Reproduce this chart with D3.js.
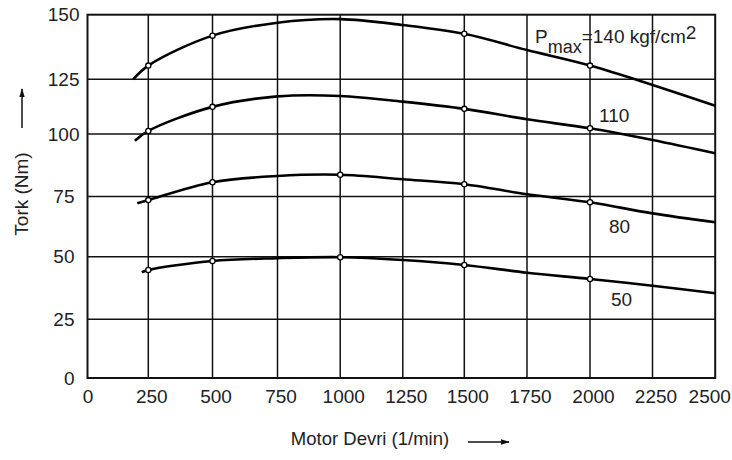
<!DOCTYPE html>
<html>
<head>
<meta charset="utf-8">
<script src="https://cdn.jsdelivr.net/npm/d3@7"></script>
<style>
  body { margin: 0; background: #fff; }
  svg text { font-family: "Liberation Sans", Arial, sans-serif; fill: #222; }
</style>
</head>
<body>
<div id="chart"></div>
<script>
// tick values
const xTicks = [0, 250, 500, 750, 1000, 1250, 1500, 1750, 2000, 2250, 2500];
const yTicks = [0, 25, 50, 75, 100, 125, 150];

// curves (rpm, torque Nm)
const rpm140 = [188, 250, 500, 750, 1000, 1250, 1500, 1750, 2000, 2250, 2500];
const tork140 = [125, 130.3, 141.9, 146.9, 148.3, 146.0, 142.6, 136.3, 130.3, 122.4, 112.9];
const rpm110 = [195, 250, 500, 750, 1000, 1250, 1500, 1750, 2000, 2250, 2500];
const tork110 = [97.3, 101.4, 112.4, 117.2, 117.4, 114.8, 111.5, 106.7, 102.6, 97.6, 92.3];
const rpm80 = [205, 250, 500, 750, 1000, 1250, 1500, 1750, 2000, 2250, 2500];
const tork80 = [72.2, 73.5, 80.7, 83.2, 83.7, 81.9, 79.9, 75.9, 72.6, 68.0, 64.3];
const rpm50 = [223, 250, 500, 750, 1000, 1250, 1500, 1750, 2000, 2250, 2500];
const tork50 = [43.8, 44.7, 48.3, 49.4, 49.8, 48.7, 46.7, 43.6, 41.1, 38.4, 35.4];

// measured points (small open circles)
const marks140 = [250, 500, 1500, 2000];
const marks110 = [250, 500, 1500, 2000];
const marks80 = [250, 500, 1000, 1500, 2000];
const marks50 = [250, 500, 1000, 1500, 2000];

const curveLabels = ["110", "80", "50"];

const width = 732, height = 460;

// the scanned grid is not quite even, so the scales follow every grid line
const x = d3.scaleLinear()
    .domain(xTicks)
    .range([87.5, 148.3, 212.5, 277.5, 340.2, 402.8, 464.3, 527, 590, 652.5, 715.2]);
const y = d3.scaleLinear()
    .domain(yTicks)
    .range([378, 319.3, 256.7, 196.5, 134, 79.3, 14.7]);

const svg = d3.select('#chart').append('svg')
    .attr('width', width)
    .attr('height', height);

// grid
const grid = svg.append('g').attr('stroke', '#111').attr('stroke-width', 1.5);
grid.selectAll('line.v').data(xTicks.slice(1, -1)).enter().append('line')
    .attr('class', 'v')
    .attr('x1', d => x(d)).attr('x2', d => x(d))
    .attr('y1', y(0)).attr('y2', y(150));
grid.selectAll('line.h').data(yTicks.slice(1, -1)).enter().append('line')
    .attr('class', 'h')
    .attr('x1', x(0)).attr('x2', x(2500))
    .attr('y1', d => y(d)).attr('y2', d => y(d));

svg.append('rect')
    .attr('x', x(0)).attr('y', y(150))
    .attr('width', x(2500) - x(0)).attr('height', y(0) - y(150))
    .attr('fill', 'none').attr('stroke', '#111').attr('stroke-width', 2);

// axes (labels only)
const xAxis = svg.append('g')
    .attr('transform', `translate(0,${y(0)})`)
    .call(d3.axisBottom(x).tickValues(xTicks).tickSize(0).tickPadding(12).tickFormat(d3.format('')));
xAxis.select('.domain').remove();
xAxis.selectAll('text').attr('font-size', 19).attr('dx', (d, i) => i === 0 ? 0 : (d === 2500 ? -6 : 3));

const yAxis = svg.append('g')
    .attr('transform', `translate(${x(0)},0)`)
    .call(d3.axisLeft(y).tickValues(yTicks).tickSize(0).tickPadding(9));
yAxis.select('.domain').remove();
yAxis.selectAll('text').attr('font-size', 19).attr('dx', d => d >= 100 ? 1 : -4);

// curves
const line = d3.line()
    .x(d => x(d[0]))
    .y(d => y(d[1]))
    .curve(d3.curveCatmullRom.alpha(0.5));

const series = [
    { rpm: rpm140, tork: tork140, marks: marks140 },
    { rpm: rpm110, tork: tork110, marks: marks110 },
    { rpm: rpm80, tork: tork80, marks: marks80 },
    { rpm: rpm50, tork: tork50, marks: marks50 }
];

series.forEach(s => {
    const pts = s.rpm.map((r, i) => [r, s.tork[i]]);
    svg.append('path')
        .datum(pts)
        .attr('fill', 'none')
        .attr('stroke', '#000')
        .attr('stroke-width', 2.6)
        .attr('d', line);
    svg.append('g').selectAll('circle')
        .data(s.marks.map(m => pts.find(p => p[0] === m)))
        .enter().append('circle')
        .attr('cx', d => x(d[0]))
        .attr('cy', d => y(d[1]))
        .attr('r', 2.6)
        .attr('fill', '#fff')
        .attr('stroke', '#000')
        .attr('stroke-width', 1.3);
});

// curve labels
const pLabel = svg.append('text')
    .attr('x', x(1750) + 8)
    .attr('y', 43)
    .attr('font-size', 19);
pLabel.append('tspan').text('P');
pLabel.append('tspan').attr('dy', 10).attr('font-size', 18).text('max');
pLabel.append('tspan').attr('dy', -10).text('=140 kgf/cm');
pLabel.append('tspan').attr('dy', -4).text('2');

svg.append('g').selectAll('text')
    .data(curveLabels)
    .enter().append('text')
    .attr('x', (d, i) => x(2000) + [9, 19, 21][i])
    .attr('y', (d, i) => [121.5, 233, 306][i])
    .attr('font-size', 19)
    .text(d => d);

// axis titles with arrows
svg.append('defs').append('marker')
    .attr('id', 'head')
    .attr('viewBox', '0 0 10 10')
    .attr('refX', 9).attr('refY', 5)
    .attr('markerWidth', 6).attr('markerHeight', 6)
    .attr('orient', 'auto')
    .append('path').attr('d', 'M0,2 L10,5 L0,8 Z').attr('fill', '#111');

svg.append('text')
    .attr('transform', 'translate(28,194) rotate(-90)')
    .attr('text-anchor', 'middle')
    .attr('font-size', 19)
    .text('Tork (Nm)');
svg.append('line')
    .attr('x1', 22).attr('x2', 22).attr('y1', 128).attr('y2', 89)
    .attr('stroke', '#111').attr('stroke-width', 1.5)
    .attr('marker-end', 'url(#head)');

svg.append('text')
    .attr('x', 370)
    .attr('y', 445)
    .attr('text-anchor', 'middle')
    .attr('font-size', 18.5)
    .text('Motor Devri (1/min)');
svg.append('line')
    .attr('x1', 468).attr('x2', 509).attr('y1', 442).attr('y2', 442)
    .attr('stroke', '#111').attr('stroke-width', 1.5)
    .attr('marker-end', 'url(#head)');
</script>
</body>
</html>
